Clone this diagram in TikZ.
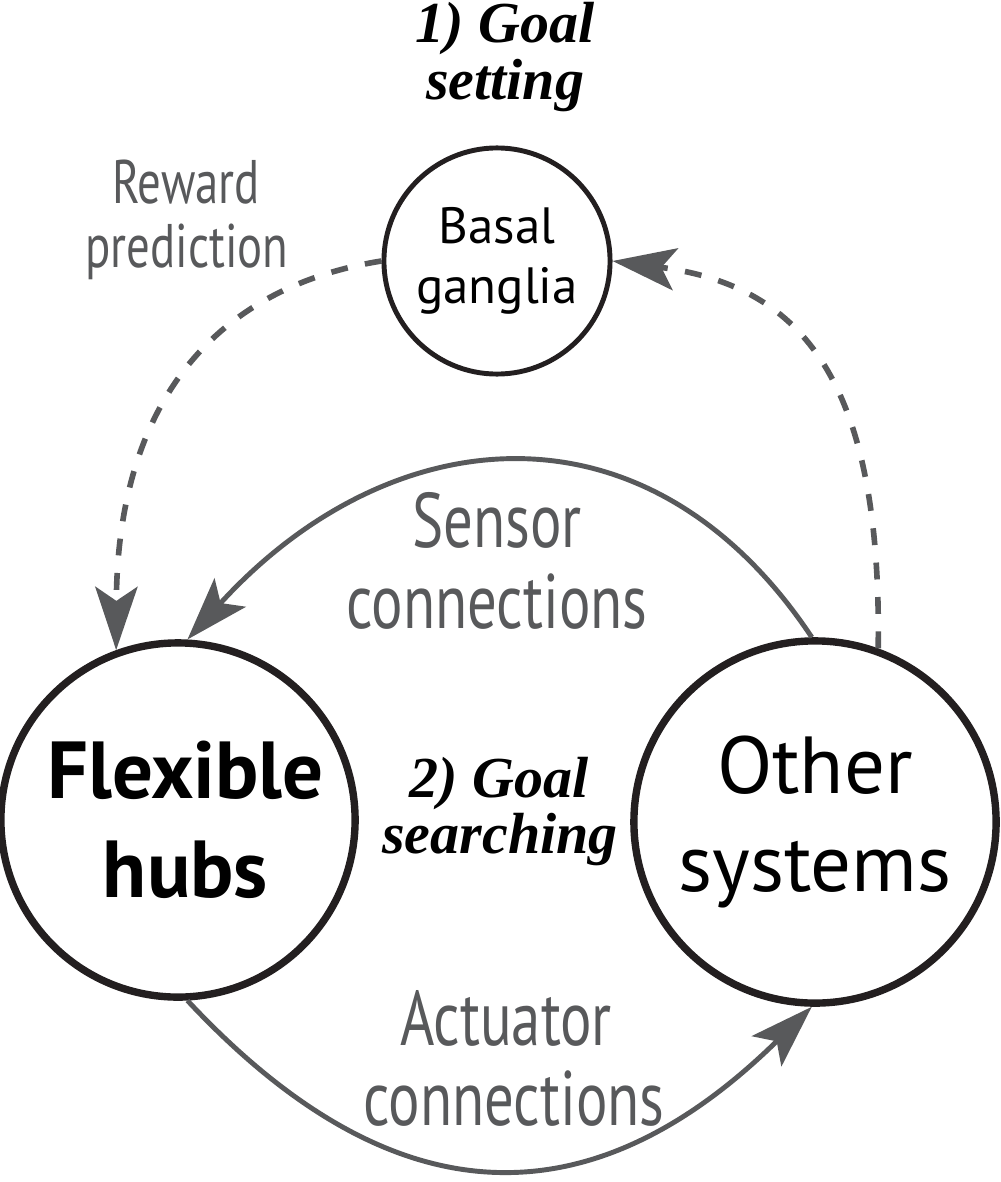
\documentclass[tikz,border=0pt]{standalone}
\usepackage{fontspec}
\usetikzlibrary{arrows.meta}
\newfontfamily\mysans{PT Sans}
\newfontfamily\mycond[FakeStretch=0.76]{PT Sans}
\newfontfamily\myserif{Liberation Serif}
\definecolor{arrowgray}{RGB}{88,89,91}
\definecolor{inkblack}{RGB}{35,31,32}
\tikzset{
  bigcirc/.style={circle, draw=inkblack, line width=2.1pt, inner sep=0pt, align=center,
    font={\mysans\fontsize{23}{28}\selectfont}},
  smallcirc/.style={circle, draw=inkblack, line width=1.4pt, inner sep=0pt, align=center,
    font={\mysans\fontsize{14.5}{17}\selectfont}},
  graylabel/.style={text=arrowgray, anchor=base, inner sep=0pt},
  titlelabel/.style={text=black, anchor=base, inner sep=0pt, font={\myserif\bfseries\itshape\fontsize{16.5}{18}\selectfont}},
  tip/.style={-{Stealth[length=18pt, width=12pt, inset=4pt]}},
  conn/.style={draw=arrowgray, line width=1.4pt, tip},
  dashconn/.style={draw=arrowgray, line width=1.6pt, dash pattern=on 4.8pt off 5pt, tip},
}
\begin{document}
\begin{tikzpicture}[x=0.01cm, y=-0.01cm]
\useasboundingbox (0,0) rectangle (1000,1182);

% circles
\node[smallcirc, minimum size=2.26cm] (bg) at (497,261) {Basal\\ganglia};
\node[bigcirc, minimum size=3.54cm] (hubs) at (178,820) {\bfseries \hspace*{0.15cm}Flexible\\\bfseries \hspace*{0.15cm}hubs};
\node[bigcirc, minimum size=3.62cm] (other) at (815,822) {Other\\systems};

% titles
\node[titlelabel] (t1a) at (505,43) {1) Goal};
\node[titlelabel] (t1b) at (505,100) {setting};
\node[titlelabel] (t2a) at (499,797) {2) Goal};
\node[titlelabel] (t2b) at (500,853) {searching};

% gray labels
\node[graylabel, font={\mycond\fontsize{17.5}{20}\selectfont}] (rw1) at (186,203) {Reward};
\node[graylabel, font={\mycond\fontsize{17.5}{20}\selectfont}] (rw2) at (187,268) {prediction};
\node[graylabel, font={\mycond\fontsize{22}{26}\selectfont}] (sc1) at (497,547) {Sensor};
\node[graylabel, font={\mycond\fontsize{22}{26}\selectfont}] (sc2) at (497,628) {connections};
\node[graylabel, font={\mycond\fontsize{22}{26}\selectfont}] (ac1) at (506,1045) {Actuator};
\node[graylabel, font={\mycond\fontsize{22}{26}\selectfont}] (ac2) at (514,1125) {connections};

% connectors
\draw[dashconn] (bg.west) .. controls (200,290) and (117,420) .. (hubs.110);
\draw[dashconn] (other.70) .. controls (882,370) and (795,285) .. (bg.east);
\draw[conn] (other.91) .. controls (648,391) and (389,418) .. (hubs.87);
\draw[conn] (hubs.-87) .. controls (398,1226) and (595,1220) .. (other.-91);
\end{tikzpicture}
\end{document}
